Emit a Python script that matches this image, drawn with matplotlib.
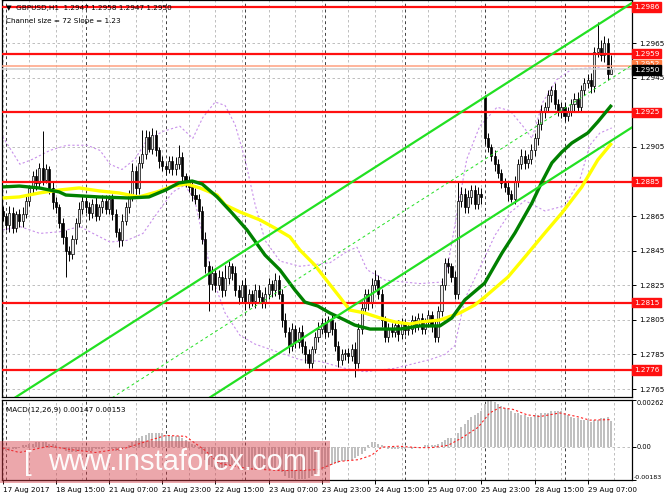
import matplotlib
matplotlib.use("Agg")
import matplotlib.pyplot as plt
from matplotlib.patches import Rectangle
import numpy as np

plt.rcParams['font.family'] = ['DejaVu Sans']

# GBPUSD H1 bars, bar 0 = 17 Aug 23:00
closes = [
    1.2865, 1.2860, 1.2867, 1.2858, 1.2866, 1.2862, 1.2866, 1.2874, 1.2881, 1.2888, 1.2884, 1.2893, 1.2886, 1.2892, 1.2881, 1.2873,
    1.2870, 1.2861, 1.2853, 1.2845, 1.2843, 1.2852, 1.2861, 1.2869, 1.2874, 1.2870, 1.2867, 1.2872, 1.2865, 1.2870, 1.2874, 1.2869,
    1.2875, 1.2866, 1.2856, 1.2851, 1.2862, 1.2870, 1.2877, 1.2891, 1.2881, 1.2896, 1.2901, 1.2911, 1.2904, 1.2912, 1.2903, 1.2897,
    1.2894, 1.2892, 1.2897, 1.2892, 1.2895, 1.2899, 1.2888, 1.2885, 1.2882, 1.2877, 1.2875, 1.2868, 1.2852, 1.2836, 1.2826, 1.2832,
    1.2825, 1.2830, 1.2822, 1.2829, 1.2836, 1.2832, 1.2822, 1.2818, 1.2825, 1.2815, 1.2820, 1.2816, 1.2822, 1.2818, 1.2815, 1.2820,
    1.2826, 1.2822, 1.2828, 1.2820, 1.2805, 1.2798, 1.2790, 1.2800, 1.2792, 1.2798, 1.2790, 1.2785, 1.2780, 1.2788, 1.2795, 1.2800,
    1.2803, 1.2798, 1.2805, 1.2800, 1.2790, 1.2782, 1.2785, 1.2786, 1.2784, 1.2788, 1.2780, 1.2800, 1.2812, 1.2820, 1.2815, 1.2825,
    1.2828, 1.2820, 1.2805, 1.2795, 1.2800, 1.2798, 1.2802, 1.2797, 1.2803, 1.2799, 1.2800, 1.2805, 1.2802, 1.2806, 1.2800, 1.2804,
    1.2808, 1.2802, 1.2795, 1.2810, 1.2825, 1.2838, 1.2836, 1.2830, 1.2820, 1.2874, 1.2878, 1.2870, 1.2876, 1.2880, 1.2872, 1.2878,
    1.2876, 1.2910, 1.2905, 1.2900, 1.2895, 1.2890, 1.2884, 1.2882, 1.2878, 1.2875, 1.2885, 1.2895, 1.2900, 1.2896, 1.2898, 1.2903,
    1.2910, 1.2918, 1.2925, 1.2928, 1.2935, 1.2938, 1.2930, 1.2926, 1.2928, 1.2923, 1.2926, 1.2930, 1.2933, 1.2928, 1.2938, 1.2942,
    1.2944, 1.2940, 1.2960, 1.2962, 1.2958, 1.2965, 1.2947, 1.2950,
]
# wick lengths in pips above / below the body
wick_up = [
    3, 2, 4, 3, 2, 3, 4, 3, 2, 3, 4, 3, 21, 3, 2, 4,
    3, 2, 3, 4, 3, 2, 3, 4, 3, 2, 3, 3, 4, 2, 3, 3,
    2, 3, 3, 2, 4, 3, 3, 5, 3, 4, 14, 4, 3, 4, 3, 2,
    3, 2, 3, 3, 4, 7, 3, 2, 3, 3, 4, 3, 3, 4, 3, 4,
    3, 4, 3, 8, 3, 2, 4, 3, 3, 4, 3, 2, 4, 3, 3, 4,
    3, 2, 4, 3, 3, 4, 3, 3, 2, 3, 4, 3, 3, 2, 3, 4,
    3, 3, 2, 3, 4, 3, 3, 2, 3, 3, 4, 3, 4, 3, 3, 4,
    6, 3, 3, 2, 3, 3, 2, 3, 3, 2, 3, 3, 2, 3, 3, 2,
    3, 2, 3, 3, 4, 3, 3, 2, 3, 11, 4, 3, 4, 3, 3, 4,
    3, 1, 3, 2, 3, 3, 2, 3, 3, 2, 3, 3, 4, 3, 3, 4,
    3, 3, 4, 3, 3, 2, 4, 3, 3, 3, 2, 3, 3, 4, 3, 3,
    3, 4, 3, 15, 5, 4, 3, 8,
]
wick_dn = [
    3, 3, 4, 3, 2, 3, 3, 2, 3, 3, 4, 3, 3, 2, 3, 4,
    3, 3, 4, 15, 4, 3, 3, 2, 3, 3, 4, 3, 3, 2, 3, 3,
    3, 3, 3, 4, 3, 2, 3, 3, 4, 3, 3, 3, 2, 3, 3, 4,
    3, 3, 2, 3, 3, 3, 4, 3, 3, 3, 3, 4, 3, 4, 16, 4,
    4, 3, 4, 3, 3, 4, 3, 4, 3, 4, 3, 3, 4, 3, 3, 3,
    3, 4, 3, 3, 4, 3, 4, 3, 3, 3, 4, 5, 3, 3, 2, 3,
    3, 3, 3, 4, 3, 4, 3, 3, 4, 3, 8, 3, 3, 3, 4, 3,
    3, 3, 4, 3, 3, 3, 3, 4, 3, 3, 3, 3, 4, 3, 3, 3,
    3, 4, 3, 3, 3, 3, 4, 3, 3, 3, 4, 3, 3, 4, 3, 3,
    4, 3, 3, 3, 4, 3, 3, 3, 4, 2, 3, 3, 3, 4, 3, 3,
    3, 4, 3, 3, 3, 4, 3, 3, 4, 3, 3, 3, 4, 3, 3, 3,
    3, 4, 3, 3, 3, 4, 3, 0,
]
first_open = 1.2868
gap_bar, gap_open = 145, 1.2934

# moving averages (bar, price)
ma_green = [(0, 1.28819), (5, 1.28824), (11, 1.28813), (17, 1.28790), (19, 1.28772), (29, 1.28761), (38, 1.28755),
            (44, 1.28761), (49, 1.28801), (53, 1.28842), (57, 1.28853), (60, 1.28836), (64.5, 1.28761), (69, 1.28668),
            (73.5, 1.28570), (78.9, 1.28425), (83.4, 1.28339), (87.9, 1.28223), (90.9, 1.28153), (94.8, 1.28130),
            (98.4, 1.28090), (102.9, 1.28049), (105.9, 1.28020), (110.5, 1.27997), (119.5, 1.27997), (125.5, 1.28015),
            (131.5, 1.28015), (135.1, 1.28061), (139, 1.28165), (145, 1.28263), (150.2, 1.28437), (154.1, 1.28553),
            (159.2, 1.28726), (162.2, 1.28848), (165.2, 1.28958), (168.2, 1.29021), (171.2, 1.29073), (176, 1.29131),
            (179, 1.29195), (183.2, 1.29293)]
ma_yellow = [(0, 1.28755), (5, 1.28761), (11, 1.28784), (17, 1.28801), (23, 1.28813), (29, 1.28796), (35, 1.28784),
             (41, 1.28761), (46.4, 1.28790), (51.2, 1.28824), (55.4, 1.28836), (59.3, 1.28813), (64.5, 1.28772),
             (66.9, 1.28715), (71.4, 1.28674), (77.4, 1.28628), (81.9, 1.28581), (86.4, 1.28530), (89.4, 1.28454),
             (93.9, 1.28367), (96.9, 1.28292), (101.4, 1.28182), (104.4, 1.28107), (108.9, 1.28090), (113.5, 1.28061),
             (118, 1.28038), (122.5, 1.28026), (125.5, 1.28038), (131.5, 1.28049), (137.5, 1.28090), (142, 1.28136),
             (145, 1.28182), (152, 1.28298), (157.1, 1.28414), (163.1, 1.28553), (168.2, 1.28668), (174.2, 1.28819),
             (179, 1.28975), (183.2, 1.29073)]

# bollinger envelope (bar, price)
band_up = [(0, 1.2911), (5.2, 1.2895), (9.1, 1.2898), (14.2, 1.2903), (19.3, 1.2906), (25.4, 1.2906), (29.3, 1.2903),
           (32.3, 1.2895), (35.9, 1.2892), (39.8, 1.2898), (43.4, 1.2909), (48.2, 1.2914), (53.3, 1.2917), (57.2, 1.2910),
           (60.2, 1.2922), (63.9, 1.2931), (66.9, 1.2929), (69.9, 1.2918), (72.9, 1.2898), (75.9, 1.2872), (78.9, 1.2851),
           (83.4, 1.2839), (89.4, 1.2836), (98.4, 1.2838), (103.9, 1.2845), (106.6, 1.2847), (109.6, 1.2834), (115, 1.2828),
           (125.5, 1.2826), (133, 1.2827), (136.6, 1.2866), (139.6, 1.2898), (143.5, 1.2917), (148.7, 1.2928),
           (152.6, 1.2926), (156.5, 1.2917), (159.2, 1.2910), (162.5, 1.2931), (166.7, 1.2944), (171.2, 1.2950),
           (179, 1.2951), (183.2, 1.2953)]
band_dn = [(0, 1.2857), (5.2, 1.2859), (11.2, 1.2855), (17.2, 1.2856), (23.2, 1.2859), (27.2, 1.2855), (32.3, 1.2850),
           (37.4, 1.2851), (42.2, 1.2855), (47.3, 1.2869), (51.2, 1.2879), (54.8, 1.2883), (57.8, 1.2874), (60.8, 1.2848),
           (63.9, 1.2825), (66.9, 1.2809), (71.4, 1.2796), (75.9, 1.2791), (80.4, 1.2788), (84.9, 1.2785), (89.4, 1.2782),
           (95.4, 1.2781), (102.9, 1.2777), (108.9, 1.2775), (118, 1.2777), (128.5, 1.2782), (133, 1.2785), (136, 1.2790),
           (139, 1.2817), (143.5, 1.2835), (148.1, 1.2854), (152.6, 1.2867), (157.1, 1.2874), (163.1, 1.2868),
           (169.1, 1.2871), (173.6, 1.2886), (176.6, 1.2906), (179.6, 1.2913), (183.2, 1.2916)]

# MACD(12,26,9) main values per bar and signal points
macd = [
    -0.0001, -0.0002, -0.0002, -0.0001, -0.0001, 0.0000, 0.0001, 0.0001, 0.0002, 0.0002, 0.0003, 0.0003, 0.0003, 0.0003, 0.0002, 0.0002,
    0.0001, 0.0000, -0.0001, -0.0002, -0.0003, -0.0003, -0.0003, -0.0002, -0.0002, -0.0002, -0.0002, -0.0002, -0.0001, -0.0001, -0.0001, 0.0000,
    0.0000, -0.0001, -0.0002, -0.0002, -0.0001, 0.0000, 0.0001, 0.0003, 0.0004, 0.0005, 0.0006, 0.0007, 0.0008, 0.0008, 0.0008, 0.0008,
    0.0008, 0.0007, 0.0007, 0.0006, 0.0006, 0.0006, 0.0005, 0.0004, 0.0003, 0.0002, 0.0001, -0.0001, -0.0004, -0.0007, -0.0010, -0.0011,
    -0.0012, -0.0012, -0.0012, -0.0011, -0.0010, -0.0010, -0.0011, -0.0012, -0.0012, -0.0013, -0.0013, -0.0013, -0.0013, -0.0013, -0.0013, -0.0013,
    -0.0012, -0.0012, -0.0012, -0.0013, -0.0014, -0.0016, -0.0017, -0.0017, -0.0018, -0.0018, -0.0018, -0.0018, -0.0017, -0.0016, -0.0015, -0.0014,
    -0.0013, -0.0012, -0.0011, -0.0010, -0.0009, -0.0009, -0.0008, -0.0008, -0.0007, -0.0007, -0.0006, -0.0005, -0.0004, -0.0002, 0.0001, 0.0003,
    0.0003, 0.0002, 0.0001, 0.0000, -0.0001, -0.0001, -0.0001, -0.0001, -0.0001, -0.0001, 0.0000, -0.0001, 0.0000, 0.0000, 0.0000, 0.0001,
    0.0001, 0.0001, 0.0001, 0.0002, 0.0003, 0.0004, 0.0005, 0.0005, 0.0005, 0.0008, 0.0011, 0.0013, 0.0015, 0.0017, 0.0018, 0.0019,
    0.0020, 0.0024, 0.0026, 0.0026, 0.0025, 0.0024, 0.0023, 0.0022, 0.0021, 0.0020, 0.0019, 0.0019, 0.0018, 0.0018, 0.0017, 0.0017,
    0.0018, 0.0018, 0.0019, 0.0019, 0.0019, 0.0020, 0.0020, 0.0020, 0.0020, 0.0019, 0.0018, 0.0017, 0.0016, 0.0016, 0.0015, 0.0015,
    0.0015, 0.0014, 0.0015, 0.0015, 0.0016, 0.0016, 0.0017, 0.00147,
]
signal = [(0, -0.00005), (5, -0.0003), (14, 0.00005), (21, -0.00015), (28, -0.0003), (37, -0.00005), (43, 0.0003),
          (49, 0.00065), (55, 0.0006), (61, -0.0002), (65, -0.0009), (74, -0.0012), (83, -0.0013), (89, -0.0013),
          (95, -0.00125), (101, -0.0008), (107, -0.0007), (111, -0.00045), (114, 0.0), (119, 0.00005), (125, -0.00003),
          (129, -0.00003), (134, 0.0001), (138, 0.0005), (143, 0.0011), (146.5, 0.0019), (149.5, 0.0022), (153.5, 0.0021),
          (157.7, 0.0018), (161.6, 0.0017), (167.6, 0.0019), (172.7, 0.0017), (176.6, 0.0015), (183, 0.00153)]

levels = [1.2986, 1.2959, 1.2925, 1.2885, 1.2815, 1.2776]
ask_line = 1.2952
bid_line = 1.2950

# regression channel
chan_bar, chan_top, chan_slope, chan_size = 124, 1.2908, 0.000123, 0.0072

time_labels = ['17 Aug 2017', '18 Aug 15:00', '21 Aug 07:00', '21 Aug 23:00', '22 Aug 15:00', '23 Aug 07:00',
               '23 Aug 23:00', '24 Aug 15:00', '25 Aug 07:00', '25 Aug 23:00', '28 Aug 15:00', '29 Aug 07:00']
day_starts = [1, 25, 49, 73, 97, 121, 145, 169]
price_ticks = [1.2765, 1.2785, 1.2805, 1.2825, 1.2845, 1.2865, 1.2885, 1.2905, 1.2925, 1.2945, 1.2965]

# ---------------------------------------------------------------
W, H = 665, 499
fig = plt.figure(figsize=(W / 100, H / 100), dpi=100)
fig.patch.set_facecolor('white')


def box(l, t, r, b):
    return [l / W, 1 - b / H, (r - l) / W, (b - t) / H]


ax = fig.add_axes(box(2, 0, 632, 397))
axm = fig.add_axes(box(2, 400, 632, 480))
fs = 5.2

n = len(closes)
idx = np.arange(n)
c = np.array(closes)
o = np.array([first_open] + closes[:-1])
o[gap_bar] = gap_open
hi = np.maximum(o, c) + np.array(wick_up) * 0.0001
lo = np.minimum(o, c) - np.array(wick_dn) * 0.0001

xlim = (-0.2, 189.3)
for a in (ax, axm):
    a.set_xlim(*xlim)
    for k in range(0, 190, 8):
        a.axvline(k, color='#b4b4b4', lw=0.6, ls=(0, (3, 3)), zorder=0)
    for d in day_starts:
        a.axvline(d, color='#404040', lw=0.7, ls=(0, (3, 3)), zorder=0)
    for s in a.spines.values():
        s.set_linewidth(0.9)

ax.set_ylim(1.27604, 1.29900)
for p in price_ticks:
    ax.axhline(p, color='#b4b4b4', lw=0.6, ls=(0, (3, 3)), zorder=0)

# bands
ax.plot(*zip(*band_up), color='#c890ea', lw=0.8, ls=(0, (2, 2)), zorder=1)
ax.plot(*zip(*band_dn), color='#c890ea', lw=0.8, ls=(0, (2, 2)), zorder=1)

# candles
ax.vlines(idx, lo, hi, color='black', lw=0.7, zorder=2)
bull = c >= o
ax.bar(idx[bull], np.maximum(c - o, 0.00002)[bull], bottom=o[bull], width=0.62,
       color='#e8e8e8', edgecolor='black', linewidth=0.5, zorder=2.1)
ax.bar(idx[~bull], (o - c)[~bull], bottom=c[~bull], width=0.62,
       color='black', edgecolor='black', linewidth=0.5, zorder=2.1)

# horizontal levels
ax.axhline(ask_line, color='#ffa080', lw=1.1, zorder=3)
ax.axhline(bid_line, color='#cfcfcf', lw=1.1, zorder=3)
for lv in levels:
    ax.axhline(lv, color='#ff1010', lw=1.6, zorder=3)

# moving averages
ax.plot(*zip(*ma_yellow), color='#ffff00', lw=2.4, zorder=4, solid_capstyle='butt')
ax.plot(*zip(*ma_green), color='#008000', lw=2.4, zorder=4.1, solid_capstyle='butt')

# channel
xs = np.array([-5.0, 195.0])
upper = chan_top + chan_slope * (xs - chan_bar)
ax.plot(xs, upper, color='#22e022', lw=1.6, zorder=5)
ax.plot(xs, upper - chan_size, color='#22e022', lw=1.6, zorder=5)
ax.plot(xs, upper - chan_size / 2, color='#22e022', lw=0.7, ls=(0, (3, 3)), zorder=5)

# right price scale (labels under a level box are hidden by the box)
ax.yaxis.tick_right()
ax.set_yticks(price_ticks)
ax.set_yticklabels(['' if any(abs(p - lv) < 1e-6 for lv in levels) else '%.4f' % p for p in price_ticks])
ax.tick_params(axis='y', direction='out', length=3, width=0.7, labelsize=fs, pad=2)
ax.tick_params(axis='x', length=0, labelbottom=False)
ytr = ax.get_yaxis_transform()
for lv in levels:
    ax.text(1.003, lv, '%.4f' % lv, transform=ytr, fontsize=fs, color='white', va='center', ha='left',
            bbox=dict(facecolor='#ff1010', edgecolor='#ff1010', pad=1.2), clip_on=False, zorder=10)
ax.text(1.003, ask_line + 0.00008, '%.4f' % ask_line, transform=ytr, fontsize=fs, color='white', va='center',
        ha='left', bbox=dict(facecolor='#ff7a40', edgecolor='#ff7a40', pad=1.2), clip_on=False, zorder=10)
ax.text(1.003, bid_line - 0.00004, '%.4f' % bid_line, transform=ytr, fontsize=fs, color='white', va='center',
        ha='left', bbox=dict(facecolor='black', edgecolor='black', pad=1.2), clip_on=False, zorder=11)

fig.text(6 / W, 1 - 8 / H, u'\u25bc  GBPUSD,H1  1.2947 1.2958 1.2947 1.2950', fontsize=fs, va='center', ha='left')
fig.text(6 / W, 1 - 21 / H, 'Channel size = 72 Slope = 1.23', fontsize=fs, va='center', ha='left')

# MACD panel
axm.set_ylim(-0.00183, 0.00262)
axm.axhline(0, color='#b4b4b4', lw=0.6, ls=(0, (3, 3)), zorder=0)
axm.bar(idx, macd, width=0.6, color='#c0c0c0', zorder=1)
axm.plot(*zip(*signal), color='#ff2020', lw=0.8, ls=(0, (2, 2)), zorder=2)
axm.yaxis.tick_right()
axm.set_yticks([0.00262, 0.0, -0.00183])
axm.set_yticklabels(['', '', ''])
axm.tick_params(axis='y', direction='out', length=3, width=0.7)
ytm = axm.get_yaxis_transform()
axm.text(1.008, 0.00262, '0.00262', transform=ytm, fontsize=4.8, va='top', ha='left', clip_on=False)
axm.text(1.008, 0.0, '0.00', transform=ytm, fontsize=4.8, va='center', ha='left', clip_on=False)
axm.text(1.002, -0.00183, '-0.00183', transform=ytm, fontsize=4.6, va='bottom', ha='left', clip_on=False)
axm.text(0.006, 0.88, 'MACD(12,26,9) 0.00147 0.00153', transform=axm.transAxes, fontsize=fs, va='center')

axm.set_xticks(list(range(0, 16 * len(time_labels), 16)))
axm.set_xticklabels(time_labels)
axm.tick_params(axis='x', direction='out', length=3, width=0.7, labelsize=fs, pad=2)
plt.setp(axm.get_xticklabels(), ha='left')

# watermark
fig.patches.append(Rectangle((0, 1 - 483 / H), 330 / W, 42 / H, transform=fig.transFigure,
                             facecolor='#d63c46', alpha=0.45, edgecolor='none', zorder=20))
fig.text(28 / W, 1 - 463 / H, '[', fontsize=20, color='white', va='center', ha='center', zorder=21,
         family='Liberation Sans', alpha=0.95)
fig.text(177 / W, 1 - 462 / H, 'www.instaforex.com', fontsize=21, color='white', va='center', ha='center',
         zorder=21, family='Liberation Sans', alpha=0.95)
fig.text(318 / W, 1 - 463 / H, ']', fontsize=20, color='white', va='center', ha='center', zorder=21,
         family='Liberation Sans', alpha=0.95)

fig.savefig('out.png', dpi=100, facecolor='white')
